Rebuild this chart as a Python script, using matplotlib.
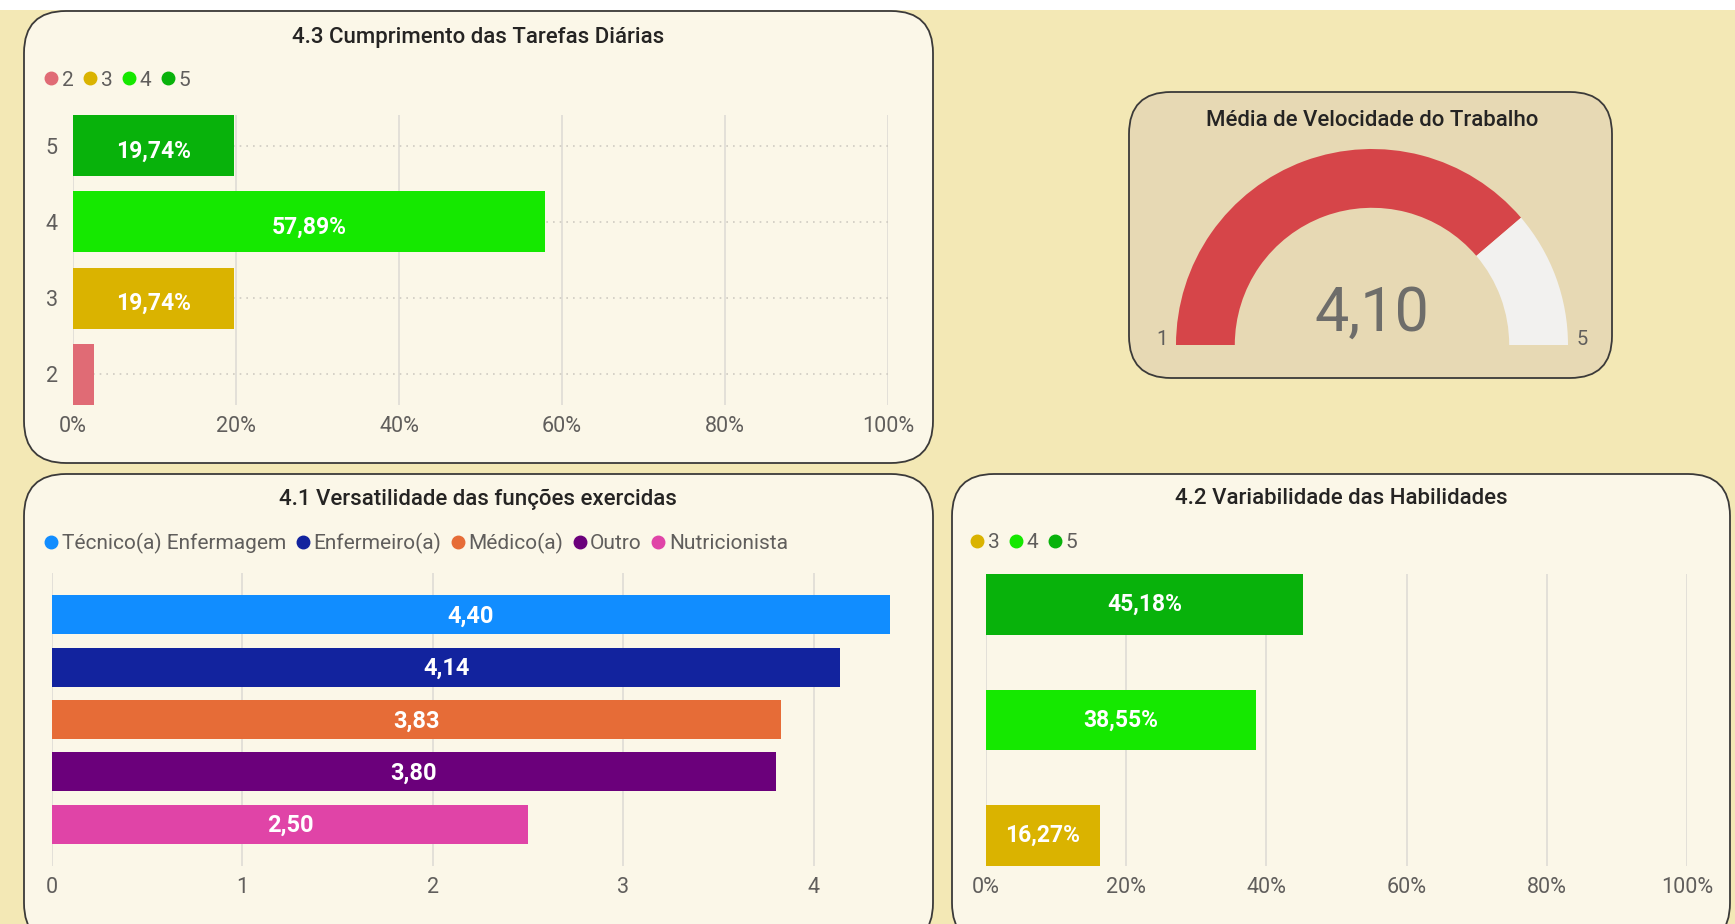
#!/usr/bin/env python3
#
# plot.py - painel "Velocidade / Versatilidade" (recriacao de um relatorio Power BI)
#

import numpy as np
import matplotlib
matplotlib.use("Agg")
import matplotlib.pyplot as plt
from matplotlib import font_manager
from matplotlib.patches import FancyBboxPatch, Rectangle, Wedge
from matplotlib.lines import Line2D

#%%============================================================================
# Dados
#==============================================================================
# 4.3 Cumprimento das Tarefas Diarias (%)
tarefas_niveis = ['2', '3', '4', '5']
tarefas_pct = [2.63, 19.74, 57.89, 19.74]

# 4.1 Versatilidade das funcoes exercidas (media)
funcoes = ['Técnico(a) Enfermagem', 'Enfermeiro(a)', 'Médico(a)', 'Outro', 'Nutricionista']
versatilidade = [4.40, 4.14, 3.83, 3.80, 2.50]

# 4.2 Variabilidade das Habilidades (%)
habil_niveis = ['3', '4', '5']
habil_pct = [16.27, 38.55, 45.18]

# Gauge
velocidade_media = 4.10
gauge_min, gauge_max = 1, 5

#%%============================================================================
# Estilo
#==============================================================================
W, H = 1735, 924

nivel_cores = {'2': '#E06B75', '3': '#DAB300', '4': '#15E800', '5': '#08B20B'}
funcao_cores = ['#118DFF', '#12239E', '#E66C37', '#6B007B', '#E044A7']

fundo = '#F3E8B5'
painel = '#FBF7E8'
painel_gauge = '#E7D9B4'
cinza_txt = '#605E5C'
titulo_cor = '#252423'
grade = '#DCDAD4'

installed = {f.name for f in font_manager.fontManager.ttflist}
narrow = 'Liberation Sans Narrow' if 'Liberation Sans Narrow' in installed else 'Roboto'
plt.rcParams['font.family'] = ['Roboto', 'DejaVu Sans']


def br(v, casas=2):
    return f"{v:.{casas}f}".replace('.', ',')


def px_rect(x0, y0, x1, y1):
    """pixel box (origin top-left) -> figure fraction rect"""
    return [x0 / W, 1 - y1 / H, (x1 - x0) / W, (y1 - y0) / H]


def legenda(ax, nomes, cores, x, y):
    handles = [Line2D([], [], ls='none', marker='o', ms=9, mfc=c, mec=c) for c in cores]
    ax.legend(handles, nomes, loc='center left', ncol=len(nomes), frameon=False,
              bbox_to_anchor=(x / W, 1 - y / H), bbox_transform=fig.transFigure,
              borderpad=0, borderaxespad=0, handlelength=0.7, handletextpad=0.15,
              columnspacing=0.45, prop={'family': narrow, 'size': 15},
              labelcolor=cinza_txt)


def estilo_barras(ax):
    for s in ax.spines.values():
        s.set_visible(False)
    ax.set_facecolor('none')
    ax.tick_params(length=0, labelsize=15.5, labelcolor=cinza_txt, pad=8)
    for lab in ax.get_xticklabels() + ax.get_yticklabels():
        lab.set_family(narrow)
    ax.grid(axis='x', color=grade, lw=1.1)
    ax.set_axisbelow(True)


#%%============================================================================
# Figura e paineis
#==============================================================================
fig = plt.figure(figsize=(W / 100, H / 100), dpi=100)
fig.patch.set_facecolor(fundo)

bg = fig.add_axes([0, 0, 1, 1])
bg.set_xlim(0, W)
bg.set_ylim(H, 0)
bg.axis('off')
bg.add_patch(Rectangle((0, 0), W, 10, color='white', lw=0))

for (x0, y0, x1, y1, cor) in [(24, 11, 933, 463, painel),
                              (1129, 92, 1612, 378, painel_gauge),
                              (24, 474, 933, 945, painel),
                              (952, 474, 1730, 945, painel)]:
    bg.add_patch(FancyBboxPatch((x0, y0), x1 - x0, y1 - y0,
                                boxstyle='round,pad=0,rounding_size=42',
                                fc=cor, ec='#3B3A39', lw=1.3))

titulos = [('4.3 Cumprimento das Tarefas Diárias', 478, 37),
           ('Média de Velocidade do Trabalho', 1372, 120),
           ('4.1 Versatilidade das funções exercidas', 478, 499),
           ('4.2 Variabilidade das Habilidades', 1341, 499)]
for txt, x, y in titulos:
    fig.text(x / W, 1 - y / H, txt, ha='center', va='center', fontsize=16,
             color=titulo_cor, fontweight='medium')

#%%============================================================================
# 4.3 Cumprimento das Tarefas Diarias
#==============================================================================
ax1 = fig.add_axes(px_rect(73, 115, 888, 405))
ypos = np.arange(len(tarefas_niveis))
cores1 = [nivel_cores[n] for n in tarefas_niveis]
ax1.barh(ypos, tarefas_pct, height=0.8, color=cores1, zorder=3)
for yy in ypos:
    ax1.axhline(yy, color='#CFCBC2', lw=1.2, ls=(0, (1, 3)), zorder=1)
ax1.set_xlim(0, 100)
ax1.set_ylim(-0.4, len(tarefas_niveis) - 0.6)
ax1.set_xticks(np.arange(0, 101, 20))
ax1.set_xticklabels([f'{v}%' for v in range(0, 101, 20)])
ax1.set_yticks(ypos)
ax1.set_yticklabels(tarefas_niveis)
estilo_barras(ax1)
ax1.tick_params(axis='y', pad=11)
for yy, v in zip(ypos, tarefas_pct):
    if v > 8:
        ax1.text(v / 2, yy - 0.07, br(v) + '%', ha='center', va='center', color='white',
                 fontsize=16.5, fontweight='bold', zorder=4)
legenda(ax1, tarefas_niveis, cores1, 44, 80)

#%%============================================================================
# Gauge - Media de Velocidade do Trabalho
#==============================================================================
cx, cy, r_px = 1372, 345, 196
axg = fig.add_axes(px_rect(1129, 92, 1612, 378))
axg.set_xlim((1129 - cx) / r_px, (1612 - cx) / r_px)
axg.set_ylim((cy - 378) / r_px, (cy - 92) / r_px)
axg.axis('off')
frac = (velocidade_media - gauge_min) / (gauge_max - gauge_min)
theta = 180 * (1 - frac)
axg.add_patch(Wedge((0, 0), 1, theta, 180, width=0.30, color='#D64549', lw=0))
axg.add_patch(Wedge((0, 0), 1, 0, theta, width=0.30, color='#F2F1EF', lw=0))
axg.text(0, 0.16, br(velocidade_media), ha='center', va='center', fontsize=44,
         color='#6E6D6A', family='Roboto')
axg.text(-1.07, 0.03, str(gauge_min), ha='center', va='center', fontsize=14.5,
         color=cinza_txt, family=narrow)
axg.text(1.07, 0.03, str(gauge_max), ha='center', va='center', fontsize=14.5,
         color=cinza_txt, family=narrow)

#%%============================================================================
# 4.1 Versatilidade das funcoes exercidas
#==============================================================================
ax3 = fig.add_axes(px_rect(52, 573, 890, 866))
ypos3 = np.arange(len(funcoes))
ax3.barh(ypos3, versatilidade, height=0.75, color=funcao_cores, zorder=3)
ax3.set_xlim(0, 4.4)
ax3.set_ylim(len(funcoes) - 0.2, -0.8)
ax3.set_xticks(range(0, 5))
ax3.set_yticks([])
estilo_barras(ax3)
for yy, v in zip(ypos3, versatilidade):
    ax3.text(v / 2, yy + 0.03, br(v), ha='center', va='center', color='white',
             fontsize=17, fontweight='bold', zorder=4)
legenda(ax3, funcoes, funcao_cores, 44, 543)

#%%============================================================================
# 4.2 Variabilidade das Habilidades
#==============================================================================
ax4 = fig.add_axes(px_rect(986, 574, 1687, 866))
ypos4 = np.arange(len(habil_niveis))
cores4 = [nivel_cores[n] for n in habil_niveis]
ax4.barh(ypos4, habil_pct, height=0.526, color=cores4, zorder=3)
ax4.set_xlim(0, 100)
ax4.set_ylim(-0.263, len(habil_niveis) - 1 + 0.263)
ax4.set_xticks(np.arange(0, 101, 20))
ax4.set_xticklabels([f'{v}%' for v in range(0, 101, 20)])
ax4.set_yticks([])
estilo_barras(ax4)
for yy, v in zip(ypos4, habil_pct):
    ax4.text(v / 2, yy, br(v) + '%', ha='center', va='center', color='white',
             fontsize=16.5, fontweight='bold', zorder=4)
legenda(ax4, habil_niveis, cores4, 970, 543)

fig.savefig('out.png', dpi=100, facecolor=fig.get_facecolor())
